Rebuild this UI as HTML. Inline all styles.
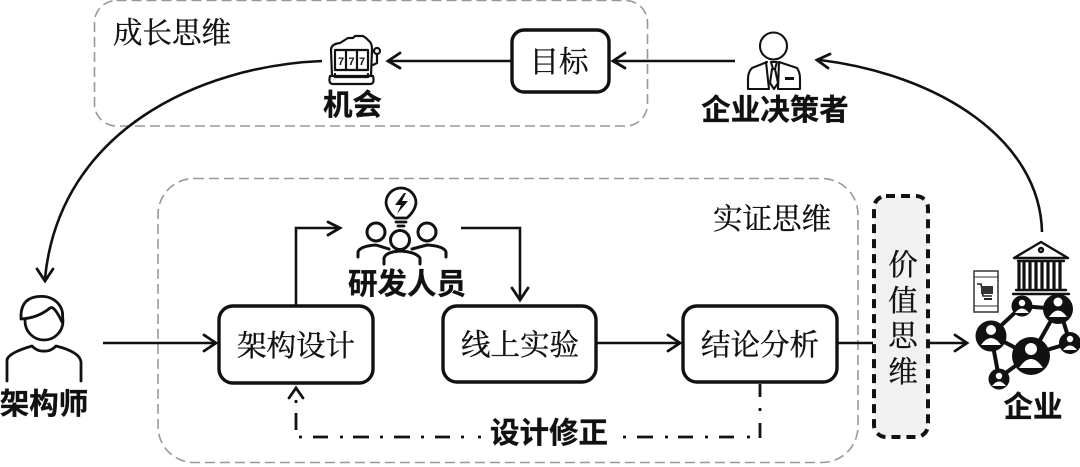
<!DOCTYPE html>
<html><head><meta charset="utf-8">
<style>
html,body{margin:0;padding:0;background:#fff}
svg{display:block}
.s{font-family:"Liberation Serif","Noto Serif CJK SC",serif;font-size:29.500px;fill:#111;stroke:#111;stroke-width:.35;text-anchor:middle}
.b{font-family:"Liberation Sans","Noto Sans CJK SC",sans-serif;font-size:29.500px;font-weight:700;fill:#111;stroke:#111;stroke-width:.3;text-anchor:middle}
.l{fill:none;stroke:#111;stroke-width:2.600}
.i{fill:none;stroke:#111;stroke-width:2.200;stroke-linecap:round;stroke-linejoin:round}
.a{fill:none;stroke:#111;stroke-width:2.800;stroke-linecap:round;stroke-linejoin:miter}
.g{fill:none;stroke:#999;stroke-width:1.600;stroke-dasharray:10 5}
.r{fill:#fff;stroke:#111;stroke-width:3.400}
</style></head><body>
<svg width="1080" height="467" viewBox="0 0 1080 467" xmlns="http://www.w3.org/2000/svg">
<rect x="94.500" y="0.500" width="553" height="125.500" rx="22" class="g"/>
<rect x="158" y="178.500" width="700" height="284" rx="36" class="g"/>
<text class="s" x="172" y="43">成长思维</text>
<text class="s" x="772" y="229">实证思维</text>

<!-- connectors -->
<path class="l" d="M322 61C200 66 60 130 45 278"/>
<path class="a" d="M37 269L45 281L53 269"/>
<path class="l" d="M511 61H390"/>
<path class="a" d="M400 53L388 61L400 68"/>
<path class="l" d="M735 61H615"/>
<path class="a" d="M625 53L613 61L625 68"/>
<path class="l" d="M1042 232C1040 140 940 75 820 60"/>
<path class="a" d="M830 54L817 60L828 68"/>
<path class="l" d="M103 343H215"/>
<path class="a" d="M204 335L216 343L204 351"/>
<path class="l" d="M296 305V228H339"/>
<path class="a" d="M328 222L340 228L328 235"/>
<path class="l" d="M461 228H520V298"/>
<path class="a" d="M512 288L520 300L528 288"/>
<path class="l" d="M597 343H679"/>
<path class="a" d="M668 335L680 343L668 351"/>
<path class="l" d="M838 343H873M928 343H966"/>
<path class="a" d="M955 335L967 343L955 351"/>

<!-- feedback dash-dot -->
<path d="M296 413V430M296 400V403M299 437H302M313 437H328M340 437H343M353 437H369M380 437H383M394 437H410M421 437H424M435 437H450M461 437H464M478 437H481M623 437H626M637 437H653M665 437H668M678 437H693M705 437H708M719 437H734M747 437H750M760 384V397M760 408V411M760 423V438" fill="none" stroke="#111" stroke-width="2.800"/>
<path class="a" d="M289 398L296 388L303 398"/>

<!-- boxes -->
<rect class="r" x="512" y="30" width="97" height="62" rx="12"/>
<rect class="r" x="219" y="306" width="154" height="77" rx="14"/>
<rect class="r" x="443" y="306" width="153" height="76" rx="14"/>
<rect class="r" x="683" y="306" width="154" height="76" rx="14"/>
<rect x="874" y="196" width="54" height="241" rx="12" fill="#f1f1f1" stroke="#111" stroke-width="4" stroke-dasharray="9 6"/>

<text class="s" x="559" y="72">目标</text>
<text class="s" x="296" y="356">架构设计</text>
<text class="s" x="520" y="355">线上实验</text>
<text class="s" x="760" y="355">结论分析</text>
<text class="s" x="903" y="275">价</text>
<text class="s" x="903" y="311">值</text>
<text class="s" x="903" y="346">思</text>
<text class="s" x="903" y="382">维</text>

<text class="b" x="352.500" y="115">机会</text>
<text class="b" x="775" y="120">企业决策者</text>
<text class="b" x="407" y="294">研发人员</text>
<text class="b" x="44" y="414">架构师</text>
<text class="b" x="1033" y="417">企业</text>
<text class="b" x="549" y="443">设计修正</text>

<!-- slot machine -->
<g class="i" transform="translate(300,0)" style="stroke-width:2.200">
<path d="M32 76L31 50Q31 44 40 43L48 38H53L55 36H63L66 38L70 42Q72 44 72 50L71 76"/>
<path d="M30 76Q28 84 33 84H70Q75 84 73 76Z"/>
<rect x="35" y="50" width="33" height="20"/>
<path d="M46 50V70M57 50V70"/>
<path d="M35 74V77H68V74"/>
<circle cx="77" cy="51" r="3"/>
<path d="M77 54V63L73 65"/>
</g>
<text x="341" y="65" font-family="Liberation Sans,sans-serif" font-size="11" font-weight="700" fill="#111" text-anchor="middle">7</text>
<text x="351.500" y="65" font-family="Liberation Sans,sans-serif" font-size="11" font-weight="700" fill="#111" text-anchor="middle">7</text>
<text x="362" y="65" font-family="Liberation Sans,sans-serif" font-size="11" font-weight="700" fill="#111" text-anchor="middle">7</text>

<!-- executive -->
<g class="i" style="stroke-width:2.100">
<circle cx="773.500" cy="46" r="13.500"/>
<path d="M767 62L752 68Q748 72 748 79V89H769L766 62"/>
<path d="M779 62L797 68Q800 72 800 79V89H778Z"/>
<path d="M771 62H777L775 69H773ZM772 69L770 83L774 89L778 83L775 69"/>
</g>
<rect x="785" y="77" width="9" height="3" fill="#111"/>

<!-- research team -->
<g class="i" style="stroke-width:2.800">
<path d="M395 218Q387 211 386 203A15 15 0 1 1 416 203Q415 211 407 218Z"/>
<path d="M396 222H406M398 226H404"/>
</g>
<path d="M404 193L395 205H401L397 214L408 201H402L406 193Z" fill="#111"/>
<g class="i" style="stroke-width:3">
<circle cx="376" cy="232" r="9"/>
<circle cx="427" cy="232" r="9"/>
<circle cx="400" cy="240" r="9.500"/>
<path d="M358 257V252Q360 246 376 245L389 249"/>
<path d="M446 257V252Q444 246 427 245L412 249"/>
<path d="M384 264V258Q386 252 400 251Q416 252 420 258V264"/>
</g>

<!-- architect -->
<g class="i" style="stroke-width:2.800">
<circle cx="44" cy="321" r="19"/>
<path d="M21 319Q20 300 35 297Q52 294 60 306Q64 312 62 322Q54 305 50 308Q38 318 21 319Z" fill="#fff"/>
<path d="M7 381V360Q8 353 32 346Q38 352 44 351Q50 352 56 346Q80 352 81 362V381"/>
</g>

<!-- bank -->
<g class="i" style="stroke-width:2.400">
<path d="M1014 258L1041 242L1068 258Z"/>
<circle cx="1041" cy="250" r="2"/>
<path d="M1018 261H1064"/>
<path d="M1019 263V288M1024 263V288M1030 263V288M1036 263V288M1042 263V288M1048 263V288M1054 263V288M1060 263V288" style="stroke-width:3.200"/>
<path d="M1016 290H1066M1013 294H1069"/>
</g>

<!-- phone -->
<rect x="974" y="271" width="24" height="41" fill="none" stroke="#333" stroke-width="1.500"/>
<path d="M974 277H998M974 306H998" stroke="#333" stroke-width="1"/>
<path d="M977 284H981L983 296H992" fill="none" stroke="#222" stroke-width="1.600"/>
<rect x="981" y="286" width="12" height="8" fill="#333"/>
<path d="M984 299H992" stroke="#222" stroke-width="2"/>

<!-- network -->
<path d="M1022 306L1058 309M1057 310L1031 356M1063 320L1070 343M1030 355L1070 343M1022 306L991 335M991 335L1029 355M991 335L999 378M999 378L1030 355" stroke="#111" stroke-width="4" fill="none"/>
<g fill="#111">
<circle cx="1022" cy="306" r="10.500"/>
<circle cx="1058" cy="309" r="15"/>
<circle cx="991" cy="336" r="15.500"/>
<circle cx="1070" cy="343" r="11"/>
<circle cx="1031" cy="356" r="19"/>
<circle cx="999" cy="379" r="10.500"/>
</g>
<g fill="#fff">
<circle cx="1022" cy="303" r="3.200"/><path d="M1015 313Q1022 304 1029 313Z"/>
<circle cx="1058" cy="302" r="4.500"/><path d="M1049 317Q1058 304 1067 317Z"/>
<circle cx="991" cy="330" r="5"/><path d="M981 345Q991 331 1001 345Z"/>
<circle cx="1070" cy="339" r="3.200"/><path d="M1063 350Q1070 341 1077 350Z"/>
<circle cx="1031" cy="349" r="6"/><path d="M1019 368Q1031 350 1043 368Z"/>
<circle cx="999" cy="376" r="3.200"/><path d="M992 386Q999 377 1006 386Z"/>
</g>
</svg>
</body></html>
